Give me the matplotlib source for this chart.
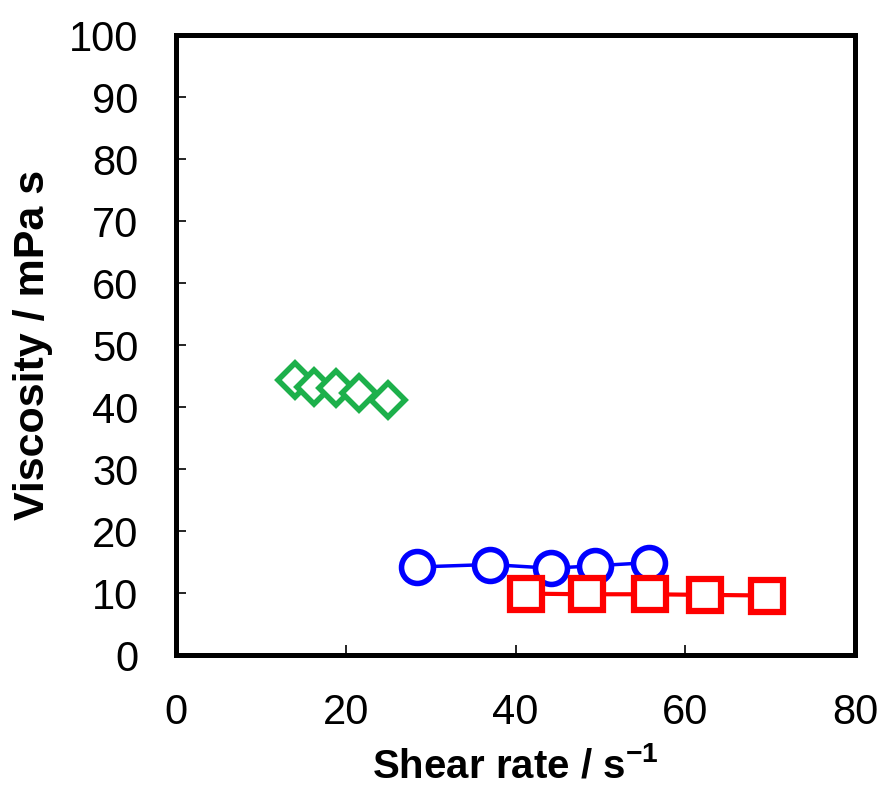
import matplotlib
matplotlib.use('Agg')
import matplotlib.pyplot as plt

plt.rcParams['font.family'] = ['Liberation Sans', 'DejaVu Sans']
plt.rcParams['mathtext.fontset'] = 'custom'
plt.rcParams['mathtext.rm'] = 'Liberation Sans'
plt.rcParams['mathtext.bf'] = 'Liberation Sans:bold'

# data
green_x = [14.0, 16.2, 18.8, 21.5, 25.0]
green_y = [44.3, 43.3, 43.1, 42.2, 41.1]
blue_x = [28.4, 37.0, 44.2, 49.4, 55.7]
blue_y = [14.2, 14.6, 14.0, 14.4, 14.9]
red_x = [41.2, 48.4, 55.8, 62.3, 69.6]
red_y = [9.9, 9.8, 9.8, 9.7, 9.6]

x_ticks = [0, 20, 40, 60, 80]
y_ticks = [0, 10, 20, 30, 40, 50, 60, 70, 80, 90, 100]

fig = plt.figure(figsize=(8.9, 7.87), dpi=100)
ax = fig.add_axes([0.1978, 0.1677, 0.763, 0.7878])

ax.plot(green_x, green_y, '-', color='#1DB04B', lw=2.5, marker='D', ms=17,
        mec='#1DB04B', mfc='white', mew=4)
ax.plot(blue_x, blue_y, '-', color='#0000FF', lw=2.5, marker='o', ms=23,
        mec='#0000FF', mfc='white', mew=4)
ax.plot(red_x, red_y, '-', color='#FF0000', lw=3, marker='s', ms=23,
        mec='#FF0000', mfc='white', mew=4.5)

ax.set_xlim(0, 80)
ax.set_ylim(0, 100)
ax.set_xticks(x_ticks)
ax.set_yticks(y_ticks)
ax.tick_params(direction='in', length=7, width=1.2, pad=27, labelsize=30,
               top=False, right=False)
for s in ax.spines.values():
    s.set_linewidth(3.6)

ax.set_xlabel(r'Shear rate / s$^{\mathbf{-1}}$', fontsize=29, fontweight='bold',
              labelpad=10)
ax.set_ylabel('Viscosity / mPa s', fontsize=31, fontweight='bold', labelpad=12)

plt.savefig('out.png', dpi=100)
plt.close()
